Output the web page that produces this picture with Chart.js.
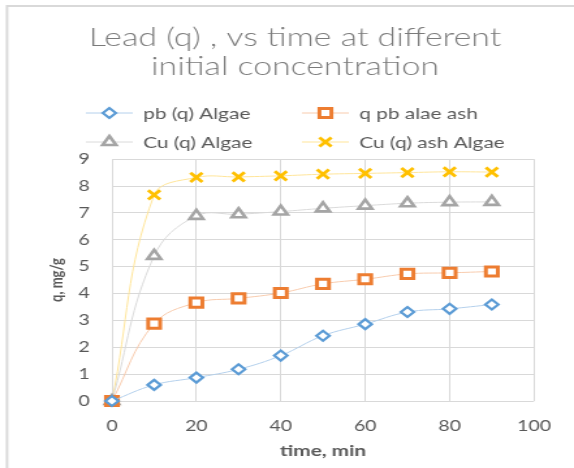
<!DOCTYPE html>
<html>
<head>
<meta charset="utf-8">
<script src="https://cdn.jsdelivr.net/npm/chart.js@4.4.1/dist/chart.umd.min.js"></script>
<style>
  html, body { margin: 0; padding: 0; background: #fff; overflow: hidden; }
  /* the reference picture is stretched sideways, so the chart is too */
  #wrap { width: 441px; height: 468px; transform: scaleX(1.3016); transform-origin: 0 0; }
</style>
</head>
<body>
<div id="wrap"><canvas id="lead-chart" width="441" height="468"></canvas></div>
<script>
// time, min
let times = [0, 10, 20, 30, 40, 50, 60, 70, 80, 90];

let pbAlgae    = [0, 0.60, 0.87, 1.18, 1.69, 2.43, 2.86, 3.31, 3.43, 3.59];
let pbAlgaeAsh = [0, 2.88, 3.66, 3.82, 4.02, 4.36, 4.53, 4.73, 4.77, 4.82];
let cuAlgae    = [0, 5.40, 6.89, 6.95, 7.05, 7.17, 7.27, 7.36, 7.40, 7.41];
let cuAshAlgae = [0, 7.67, 8.32, 8.34, 8.38, 8.44, 8.47, 8.50, 8.53, 8.52];

let seriesNames = ['pb (q) Algae', 'q pb alae ash', 'Cu (q) Algae', 'Cu (q) ash Algae'];
let titleLines = ['Lead (q) , vs time at different', 'initial concentration'];

let toPoints = function (ys) {
    return times.map((t, i) => ({x: t, y: ys[i]}));
};

let ctx = document.getElementById('lead-chart').getContext('2d');

// outer frame (only left and top visible in the reference)
let framePlugin = {
    id: 'frame',
    beforeDraw(chart) {
        let c = chart.ctx;
        c.save();
        c.strokeStyle = '#d9d9d9';
        c.lineWidth = 2;
        c.beginPath();
        c.moveTo(5.4, 468);
        c.lineTo(5.4, 6);
        c.lineTo(441, 6);
        c.stroke();
        c.restore();
    }
};

// two column legend like the Excel one
let legendPlugin = {
    id: 'gridLegend',
    afterDraw(chart) {
        let c = chart.ctx;
        let cols = [66, 232];
        let rows = [113, 142];
        chart.data.datasets.forEach(function (ds, i) {
            let x = cols[i % 2];
            let y = rows[Math.floor(i / 2)];
            c.save();
            c.strokeStyle = ds.borderColor;
            c.lineWidth = 1;
            c.beginPath();
            c.moveTo(x, y);
            c.lineTo(x + 36, y);
            c.stroke();
            c.strokeStyle = ds.pointBorderColor;
            c.fillStyle = '#fff';
            c.lineWidth = ds.pointBorderWidth;
            Chart.helpers.drawPoint(c, {pointStyle: ds.pointStyle, radius: ds.pointRadius, rotation: 0, borderWidth: ds.pointBorderWidth}, x + 18, y);
            c.fillStyle = '#595959';
            c.font = '16px Lato';
            c.textBaseline = 'middle';
            c.fillText(ds.label, x + 44, y + 1);
            c.restore();
        });
    }
};

let makeSet = function (label, data, lineColor, markColor, style, radius, bw) {
    return {
        label: label,
        data: toPoints(data),
        borderColor: lineColor,
        borderWidth: 1,
        pointBorderColor: markColor,
        pointBackgroundColor: '#fff',
        pointStyle: style,
        pointRadius: radius,
        pointBorderWidth: bw,
        tension: 0.4,
        clip: false,
        fill: false
    };
};

let chart = new Chart(ctx, {
    type: 'line',
    data: {
        datasets: [
            makeSet(seriesNames[0], pbAlgae, '#b4d0ec', '#5b9bd5', 'rectRot', 5, 2.2),
            makeSet(seriesNames[1], pbAlgaeAsh, '#f8cbad', '#ed7d31', 'rect', 6.5, 3),
            makeSet(seriesNames[2], cuAlgae, '#dadada', '#a5a5a5', 'triangle', 6, 2.6),
            makeSet(seriesNames[3], cuAshAlgae, '#ffe599', '#ffc000', 'crossRot', 6.5, 2.8)
        ]
    },
    options: {
        responsive: false,
        animation: false,
        layout: {padding: {left: 43, right: 30.7, top: 6, bottom: 8}},
        plugins: {
            legend: {display: false},
            tooltip: {enabled: false},
            title: {
                display: true,
                text: titleLines,
                color: '#7a7a7a',
                font: {family: 'Lato', size: 26, weight: 300, lineHeight: 1.08},
                padding: {top: 18, bottom: 79}
            }
        },
        scales: {
            x: {
                type: 'linear',
                min: 0,
                max: 100,
                ticks: {stepSize: 20, color: '#595959', font: {family: 'Lato', size: 15}, padding: 16},
                grid: {color: '#d9d9d9', drawTicks: false},
                border: {display: false},
                title: {display: true, text: 'time, min', color: '#595959',
                    font: {family: 'Lato', size: 16, weight: 'bold'}, padding: {top: 4, bottom: 0}},
                afterFit(scale) { scale.height = 59; }
            },
            y: {
                min: 0,
                max: 9,
                ticks: {stepSize: 1, color: '#595959', font: {family: 'Lato', size: 15}, padding: 17},
                grid: {color: '#d9d9d9', drawTicks: false},
                border: {display: false},
                title: {display: true, text: 'q, mg/g', color: '#595959',
                    font: {family: 'Lato', size: 13, weight: 'bold'}, padding: {top: -7, bottom: 0}},
                afterFit(scale) { scale.width = 43; }
            }
        }
    },
    plugins: [framePlugin, legendPlugin]
});
</script>
</body>
</html>
